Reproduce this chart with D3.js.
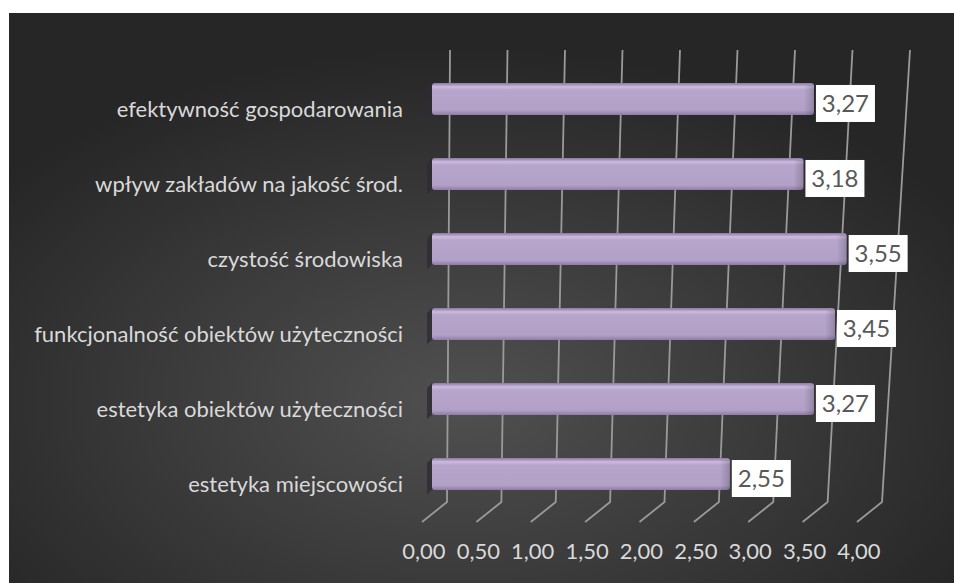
<!DOCTYPE html>
<html lang="pl">
<head>
<meta charset="UTF-8">
<title>Oceny</title>
<script src="https://cdn.jsdelivr.net/npm/d3@7/dist/d3.min.js"></script>
<style>
    body { margin: 0; background: #fff; }
    svg { display: block; font-family: Lato, "Open Sans", sans-serif; }
    .cat { fill: #d9d9d9; font-size: 22px; }
    .tick-label { fill: #d9d9d9; font-size: 22px; }
    .val { fill: #595959; font-size: 24px; }
    .grid { stroke: #9a9a9a; stroke-width: 1.8; fill: none; }
</style>
</head>
<body>
<svg></svg>
<script>
    // categories top to bottom, as in the picture
    const categories = [
        'efektywność gospodarowania',
        'wpływ zakładów na jakość środ.',
        'czystość środowiska',
        'funkcjonalność obiektów użyteczności',
        'estetyka obiektów użyteczności',
        'estetyka miejscowości'
    ];
    const values = [3.27, 3.18, 3.55, 3.45, 3.27, 2.55];
    const ticks = [0, 0.5, 1, 1.5, 2, 2.5, 3, 3.5, 4];
    const tickLabels = ['0,00', '0,50', '1,00', '1,50', '2,00', '2,50', '3,00', '3,50', '4,00'];

    const W = 954, H = 583;
    const svg = d3.select('svg').attr('width', W).attr('height', H);
    const defs = svg.append('defs');

    const bg = defs.append('radialGradient').attr('id', 'bg')
        .attr('cx', '48%').attr('cy', '68%').attr('r', '62%');
    bg.append('stop').attr('offset', '0%').attr('stop-color', '#505050');
    bg.append('stop').attr('offset', '100%').attr('stop-color', '#262626');

    const barGrad = defs.append('linearGradient').attr('id', 'bar')
        .attr('x1', 0).attr('y1', 0).attr('x2', 0).attr('y2', 1);
    [['0%', '#8c7aa3'], ['6%', '#a996c0'], ['12%', '#cbbcdc'], ['22%', '#b7a5cc'],
     ['85%', '#b2a0c7'], ['100%', '#8e7ca6']].forEach(s =>
        barGrad.append('stop').attr('offset', s[0]).attr('stop-color', s[1]));

    const endGrad = defs.append('linearGradient').attr('id', 'barEnd')
        .attr('x1', 0).attr('y1', 0).attr('x2', 1).attr('y2', 0);
    endGrad.append('stop').attr('offset', '0%').attr('stop-color', '#000').attr('stop-opacity', 0);
    endGrad.append('stop').attr('offset', '100%').attr('stop-color', '#000').attr('stop-opacity', 0.18);

    svg.append('rect').attr('x', 9).attr('y', 13).attr('width', W - 9).attr('height', H - 13)
        .attr('fill', 'url(#bg)');

    // back wall is slightly wider at the top (perspective)
    const xTop = d3.scaleLinear().domain([0, 4]).range([450, 910]);
    const xBack = d3.scaleLinear().domain([0, 4]).range([447, 882]);
    const gridTop = 50, gridBottom = 502, depthX = -25, depthY = 20;

    svg.append('g').selectAll('path').data(ticks).join('path')
        .attr('class', 'grid')
        .attr('d', t => `M${xTop(t)},${gridTop} L${xBack(t)},${gridBottom} L${xBack(t) + depthX},${gridBottom + depthY}`);

    svg.append('g').selectAll('text').data(ticks).join('text')
        .attr('class', 'tick-label')
        .attr('x', t => xBack(t) + depthX + 2)
        .attr('y', 559)
        .attr('text-anchor', 'middle')
        .text((t, i) => tickLabels[i]);

    const y = d3.scaleBand().domain(categories).range([40, 533]).padding(0.573);
    const x = d3.scaleLinear().domain([0, 4]).range([432, 432 + 4 * 116.8]);

    const rows = svg.append('g').selectAll('g').data(categories).join('g');

    // dark left end of each bar
    rows.append('path')
        .attr('d', c => `M${x(0) - 5},${y(c) + 5} L${x(0)},${y(c)} L${x(0)},${y(c) + y.bandwidth()} L${x(0) - 5},${y(c) + y.bandwidth() + 4} Z`)
        .attr('fill', '#2e2a33').attr('opacity', 0.8);

    rows.append('rect')
        .attr('x', x(0))
        .attr('y', c => y(c))
        .attr('width', (c, i) => x(values[i]) - x(0))
        .attr('height', y.bandwidth())
        .attr('rx', 3)
        .attr('fill', 'url(#bar)');

    rows.append('rect')
        .attr('x', (c, i) => x(values[i]) - 10)
        .attr('y', c => y(c) + 2)
        .attr('width', 10)
        .attr('height', y.bandwidth() - 2)
        .attr('rx', 3)
        .attr('fill', 'url(#barEnd)');

    rows.append('text')
        .attr('class', 'cat')
        .attr('x', 403)
        .attr('y', c => y(c) + y.bandwidth() / 2 + 18)
        .attr('text-anchor', 'end')
        .text(c => c);

    rows.append('rect')
        .attr('x', (c, i) => x(values[i]) + 2)
        .attr('y', c => y(c) + 2)
        .attr('width', 59)
        .attr('height', 37)
        .attr('fill', '#fff');

    rows.append('text')
        .attr('class', 'val')
        .attr('x', (c, i) => x(values[i]) + 31.5)
        .attr('y', c => y(c) + 29)
        .attr('text-anchor', 'middle')
        .text((c, i) => values[i].toFixed(2).replace('.', ','));
</script>
</body>
</html>
